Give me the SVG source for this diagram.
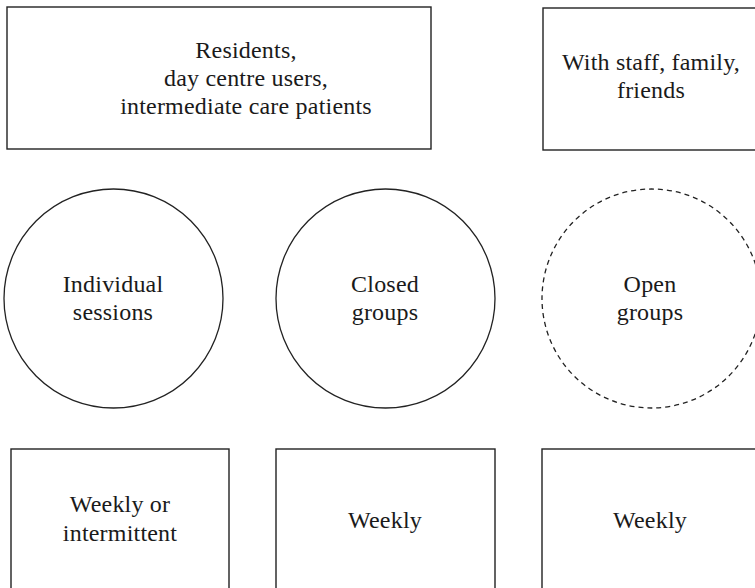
<svg xmlns="http://www.w3.org/2000/svg" width="755" height="588" viewBox="0 0 755 588">
  <style>
    .box { fill: #fff; stroke: #222; stroke-width: 1.4; }
    .ring { fill: #fff; stroke: #222; stroke-width: 1.3; }
    .ring.open { stroke-dasharray: 5 4; }
    .lbl { font-family: "Liberation Serif", "Times New Roman", serif; font-size: 24px; letter-spacing: 0.2px; fill: #1a1a1a; text-anchor: middle; }
  </style>
  <rect width="755" height="588" fill="#fff"/>

  <!-- top row: who takes part -->
  <g id="participants">
    <rect class="box" x="7" y="7" width="424" height="142"/>
    <text class="lbl" x="246" y="58">Residents,</text>
    <text class="lbl" x="246" y="86">day centre users,</text>
    <text class="lbl" x="246" y="114">intermediate care patients</text>
  </g>
  <g id="others">
    <rect class="box" x="543" y="8" width="230" height="142"/>
    <text class="lbl" x="651" y="70">With staff, family,</text>
    <text class="lbl" x="651" y="98">friends</text>
  </g>

  <!-- middle row: session formats -->
  <g id="individual">
    <circle class="ring" cx="113.5" cy="298.5" r="109.5"/>
    <text class="lbl" x="113" y="292">Individual</text>
    <text class="lbl" x="113" y="320">sessions</text>
  </g>
  <g id="closed">
    <circle class="ring" cx="385.5" cy="298.5" r="109.5"/>
    <text class="lbl" x="385" y="292">Closed</text>
    <text class="lbl" x="385" y="320">groups</text>
  </g>
  <g id="open">
    <circle class="ring open" cx="651.5" cy="298.5" r="109.5"/>
    <text class="lbl" x="650" y="292">Open</text>
    <text class="lbl" x="650" y="320">groups</text>
  </g>

  <!-- bottom row: frequency -->
  <g id="freq-individual">
    <rect class="box" x="11" y="449" width="218" height="160"/>
    <text class="lbl" x="120" y="512">Weekly or</text>
    <text class="lbl" x="120" y="541">intermittent</text>
  </g>
  <g id="freq-closed">
    <rect class="box" x="276" y="449" width="219" height="160"/>
    <text class="lbl" x="385" y="528">Weekly</text>
  </g>
  <g id="freq-open">
    <rect class="box" x="542" y="449" width="230" height="160"/>
    <text class="lbl" x="650" y="528">Weekly</text>
  </g>

  <g id="connectors"/>
</svg>
